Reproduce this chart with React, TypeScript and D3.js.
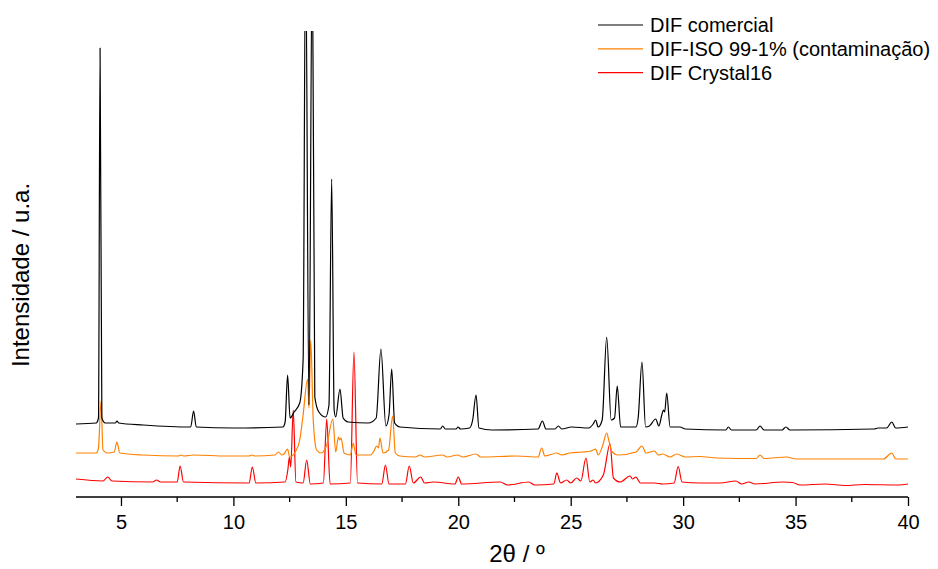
import { useRef, useEffect } from "react";
import * as d3 from "d3";

// x tick values and labels
const xTicks = [5, 10, 15, 20, 25, 30, 35, 40];
const xMinorTicks = [7.5, 12.5, 17.5, 22.5, 27.5, 32.5, 37.5];

const seriesNames = ["DIF comercial", "DIF-ISO 99-1% (contaminação)", "DIF Crystal16"];
const seriesColors = ["#000000", "#ff8000", "#ff0000"];

// [2theta, intensity (a.u., stacked)]
const difComercial: [number, number][] = [
  [3.0, 73], [3.9, 74], [4.0, 79], [4.07, 449], [4.15, 79], [4.3, 74], [4.75, 74], [4.82, 76], [4.9, 74],
  [6.0, 72], [8.1, 70], [8.23, 86], [8.35, 70], [10.0, 69], [12.2, 70], [12.3, 75], [12.41, 122], [12.52, 79],
  [12.7, 85], [12.95, 94], [13.1, 137], [13.21, 560], [13.36, 92], [13.51, 560], [13.62, 100], [13.8, 85],
  [14.1, 80], [14.25, 92], [14.37, 318], [14.48, 87], [14.55, 80], [14.74, 108], [14.88, 79], [15.1, 75],
  [16.0, 74], [16.35, 79], [16.56, 148], [16.78, 71], [16.92, 82], [17.04, 128], [17.17, 74], [17.4, 70],
  [19.2, 68], [19.31, 71], [19.42, 68], [19.9, 68], [19.99, 70], [20.1, 68], [20.5, 69], [20.64, 77],
  [20.79, 102], [20.92, 69], [21.5, 67], [23.55, 68], [23.74, 76], [23.9, 68], [24.3, 68], [24.45, 71],
  [24.6, 68], [25.04, 70], [25.8, 69], [26.0, 73], [26.11, 77], [26.22, 70], [26.4, 77], [26.6, 160],
  [26.8, 77], [26.95, 79], [27.07, 111], [27.22, 70], [27.9, 70], [28.0, 79], [28.17, 135], [28.33, 70],
  [28.5, 71], [28.78, 78], [28.92, 71], [29.05, 82], [29.12, 87], [29.18, 85], [29.27, 104], [29.42, 70],
  [29.86, 70], [30.1, 68], [31.9, 67], [32.01, 70], [32.15, 67], [33.25, 67], [33.42, 71], [33.6, 67],
  [34.4, 67], [34.57, 70], [34.75, 67], [38.5, 68], [38.67, 69], [39.05, 69], [39.28, 75], [39.45, 69],
  [40.0, 70],
];

const difIso: [number, number][] = [
  [3.0, 44], [3.9, 44], [4.0, 49], [4.11, 96], [4.2, 47], [4.4, 44], [4.7, 45], [4.82, 55], [4.95, 44],
  [6.0, 42], [7.55, 41], [7.67, 42], [7.8, 41], [8.23, 42], [9.7, 41], [10.7, 41], [10.81, 42], [10.95, 41],
  [11.85, 42], [12.0, 45], [12.15, 42], [12.25, 43], [12.41, 48], [12.5, 40], [12.75, 45], [12.95, 57],
  [13.1, 82], [13.3, 118], [13.36, 89], [13.44, 157], [13.55, 77], [13.7, 47], [13.9, 44], [14.15, 52],
  [14.42, 78], [14.55, 45], [14.67, 60], [14.73, 57], [14.79, 59], [14.92, 44], [15.2, 42], [15.33, 54],
  [15.45, 42], [16.1, 42], [16.25, 46], [16.37, 51], [16.45, 49], [16.52, 59], [16.65, 44], [16.9, 47],
  [17.08, 81], [17.2, 44], [17.4, 41], [18.1, 40], [18.3, 42], [18.5, 40], [19.31, 42], [19.5, 40],
  [19.97, 42], [20.2, 40], [20.79, 43], [21.0, 40], [22.63, 41], [23.55, 40], [23.71, 49], [23.85, 41],
  [24.38, 44], [24.6, 42], [24.97, 44], [25.5, 45], [25.9, 46], [26.11, 48], [26.22, 42], [26.43, 52],
  [26.6, 64], [26.7, 56], [26.85, 45], [27.1, 42], [27.9, 45], [28.17, 51], [28.35, 44], [28.72, 46],
  [28.9, 42], [29.09, 43], [29.42, 40], [29.71, 43], [30.1, 40], [30.75, 40.5], [31.5, 39], [33.25, 38.5],
  [33.42, 42], [33.6, 38.5], [34.6, 40], [35.0, 38], [38.9, 38], [39.28, 44], [39.45, 38], [40.0, 38],
];

const difCrystal16: [number, number][] = [
  [3.0, 18], [4.2, 16], [4.41, 20], [4.6, 16], [6.4, 15], [6.59, 17], [6.75, 15], [7.5, 15], [7.63, 31],
  [7.78, 15], [10.7, 14], [10.84, 30], [11.0, 14], [12.3, 15], [12.42, 27], [12.49, 40], [12.55, 30],
  [12.66, 87], [12.78, 15], [13.1, 14], [13.26, 37], [13.42, 13], [14.0, 14], [14.15, 78], [14.3, 13],
  [15.2, 14], [15.36, 145], [15.52, 14], [16.6, 13], [16.76, 32], [16.92, 13], [17.65, 13], [17.82, 31],
  [18.0, 14], [18.33, 20], [18.5, 14], [18.89, 15], [19.85, 13], [20.0, 20], [20.15, 13], [21.86, 15],
  [22.2, 12], [23.13, 15], [23.4, 12], [24.25, 13], [24.38, 24], [24.55, 14], [24.82, 17], [25.0, 14],
  [25.27, 19], [25.45, 16], [25.68, 39], [25.85, 15], [26.0, 17], [26.1, 14], [26.45, 22], [26.75, 53],
  [26.9, 19], [27.2, 15], [27.64, 21], [27.75, 18], [27.9, 20], [28.1, 14], [28.72, 14], [29.1, 13],
  [29.6, 14], [29.78, 30.5], [29.95, 15], [30.75, 14], [31.64, 14], [32.35, 16], [32.6, 13], [32.92, 15],
  [33.2, 13], [34.45, 15], [34.87, 14.5], [35.2, 12], [36.32, 13], [37.2, 11.5], [38.05, 12.5], [39.6, 12],
  [40.0, 13],
];

const allSeries = [difComercial, difIso, difCrystal16];

const FONT = "Arial, 'Liberation Sans', sans-serif";

export default function App() {
  const ref = useRef<SVGSVGElement | null>(null);

  const W = 938, H = 569;
  const plot = { left: 76, right: 908, top: 31, bottom: 497 };

  useEffect(() => {
    const svg = d3.select(ref.current);
    svg.selectAll("*").remove();

    const x = d3.scaleLinear().domain([3, 40]).range([plot.left, plot.right]);
    const y = d3.scaleLinear().domain([0, 466]).range([plot.bottom, plot.top]);

    svg.append("defs").append("clipPath").attr("id", "plotclip")
      .append("rect")
      .attr("x", plot.left).attr("y", plot.top)
      .attr("width", plot.right - plot.left).attr("height", plot.bottom - plot.top);

    const line = d3.line<[number, number]>()
      .x((d) => x(d[0]))
      .y((d) => y(d[1]))
      .curve(d3.curveMonotoneX);

    const g = svg.append("g").attr("clip-path", "url(#plotclip)");
    // draw bottom series first so black lies on top
    [2, 1, 0].forEach((i) => {
      g.append("path")
        .datum(allSeries[i])
        .attr("fill", "none")
        .attr("stroke", seriesColors[i])
        .attr("stroke-width", 1.2)
        .attr("stroke-linejoin", "round")
        .attr("d", line);
    });

    // x axis
    const axis = svg.append("g")
      .attr("transform", `translate(0, ${plot.bottom})`)
      .call(d3.axisBottom(x).tickValues(xTicks).tickSize(9).tickPadding(9).tickFormat(d3.format("d")));
    axis.select(".domain").attr("stroke-width", 1.5).attr("d", `M${plot.left},0H${plot.right}`);
    axis.selectAll(".tick line").attr("stroke-width", 1.3);
    axis.selectAll("text")
      .attr("font-size", 20)
      .attr("font-family", FONT)
      .attr("fill", "#000");

    axis.selectAll(".minor")
      .data(xMinorTicks)
      .enter()
      .append("line")
      .attr("class", "minor")
      .attr("x1", (d) => x(d)).attr("x2", (d) => x(d))
      .attr("y1", 0).attr("y2", 5)
      .attr("stroke", "#000").attr("stroke-width", 1.3);

    // axis titles
    svg.append("text")
      .attr("x", 517)
      .attr("y", 562)
      .attr("text-anchor", "middle")
      .attr("font-size", 24)
      .attr("font-family", FONT)
      .text("2θ / º");

    svg.append("text")
      .attr("transform", `translate(29, 275) rotate(-90)`)
      .attr("text-anchor", "middle")
      .attr("font-size", 24)
      .attr("font-family", FONT)
      .text("Intensidade / u.a.");

    // legend
    const legend = svg.append("g");
    seriesNames.forEach((name, i) => {
      const ly = 25 + i * 23.8;
      legend.append("line")
        .attr("x1", 598).attr("x2", 643)
        .attr("y1", ly).attr("y2", ly)
        .attr("stroke", seriesColors[i]).attr("stroke-width", 1.2);
      legend.append("text")
        .attr("x", 650).attr("y", ly + 7)
        .attr("font-size", 20)
        .attr("font-family", FONT)
        .text(name);
    });
  }, []);

  return (
    <svg
      ref={ref}
      width={W}
      height={H}
      style={{ position: "absolute", left: 0, top: 0, background: "#fff" }}
    />
  );
}
